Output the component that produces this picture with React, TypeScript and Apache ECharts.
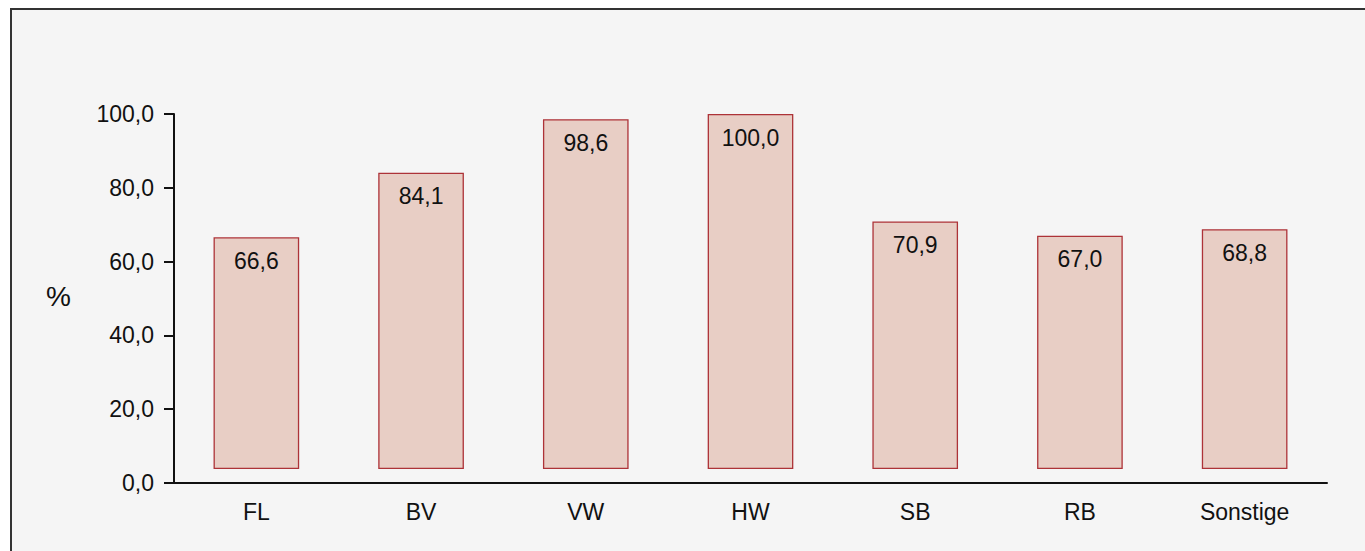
import React, { useEffect, useRef } from "react";
import * as echarts from "echarts";

const categories = ["FL", "BV", "VW", "HW", "SB", "RB", "Sonstige"];
const values = [66.6, 84.1, 98.6, 100.0, 70.9, 67.0, 68.8];
const yTicks = [0, 20, 40, 60, 80, 100];
const barBase = 3.8;
const yAxisName = "%";

const fmt = (v: number) => v.toFixed(1).replace(".", ",");
const FONT = "'Liberation Sans', Helvetica, Arial, sans-serif";

export default function App() {
  const ref = useRef<HTMLDivElement>(null);
  useEffect(() => {
    if (!ref.current) return;
    const chart = echarts.init(ref.current, undefined, { renderer: "svg" });
    chart.setOption({
      animation: false,
      backgroundColor: "transparent",
      textStyle: { fontFamily: FONT },
      grid: { left: 174, right: 38, top: 114, bottom: 68 },
      graphic: [
        {
          type: "text",
          left: 46,
          top: 282,
          style: { text: yAxisName, font: `28px ${FONT}`, fill: "#111" },
        },
      ],
      xAxis: {
        type: "category",
        data: categories,
        boundaryGap: true,
        axisLine: { lineStyle: { color: "#111", width: 2 } },
        axisTick: { length: 12, lineStyle: { color: "#111", width: 2 } },
        axisLabel: { color: "#111", fontSize: 23, fontFamily: FONT, margin: 17 },
        splitLine: { show: false },
      },
      yAxis: {
        type: "value",
        min: 0,
        max: 100,
        interval: 20,
        axisLine: { show: true, lineStyle: { color: "#111", width: 2 } },
        axisTick: { show: true, length: 10, lineStyle: { color: "#111", width: 2 } },
        axisLabel: {
          color: "#111",
          fontSize: 23,
          fontFamily: FONT,
          margin: 20,
          formatter: (v: number) => (yTicks.includes(v) ? fmt(v) : ""),
        },
        splitLine: { show: false },
      },
      series: [
        {
          type: "bar",
          stack: "s",
          barWidth: "52%",
          data: values.map(() => barBase),
          itemStyle: { color: "transparent" },
          silent: true,
        },
        {
          type: "bar",
          stack: "s",
          barWidth: "52%",
          data: values.map((v) => v - barBase),
          itemStyle: { color: "#e8cec5", borderColor: "#ad3338", borderWidth: 1.3 },
          label: {
            show: true,
            position: "insideTop",
            distance: 12,
            color: "#111",
            fontSize: 23,
            fontFamily: FONT,
            formatter: (p: any) => fmt(values[p.dataIndex]),
          },
        },
      ],
    });
    return () => chart.dispose();
  }, []);

  return (
    <div style={{ position: "absolute", left: 0, top: 0, width: 1365, height: 551, background: "#fff", overflow: "hidden" }}>
      <div
        style={{
          position: "absolute",
          left: 10,
          top: 8,
          width: 1355,
          height: 543,
          background: "#f5f5f5",
          borderTop: "2px solid #333",
          borderLeft: "2px solid #333",
          boxSizing: "border-box",
        }}
      />
      <div ref={ref} style={{ position: "absolute", left: 0, top: 0, width: 1365, height: 551 }} />
    </div>
  );
}
